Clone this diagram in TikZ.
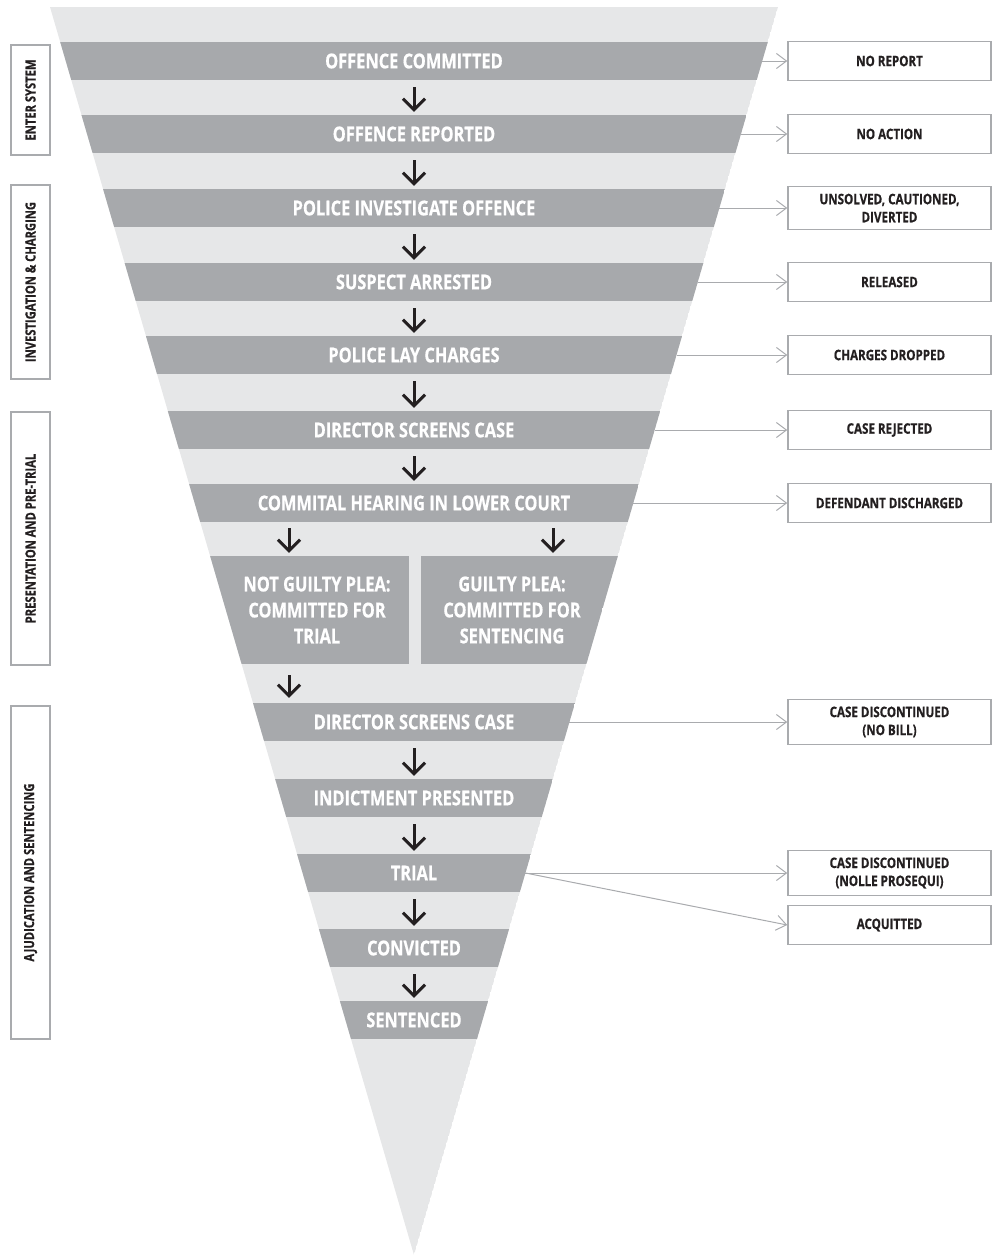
\documentclass[tikz,border=0pt]{standalone}
\usepackage{fontspec}
\setmainfont{Open Sans}[FakeStretch=0.8, BoldFeatures={FakeBold=0.6}]
\def\topy{7}
\def\apexy{1255}
\def\topwidth{728}
\usepackage{tikz}
\usetikzlibrary{arrows.meta}
\definecolor{funnelgray}{HTML}{E6E7E8}
\definecolor{stagegray}{HTML}{A7A9AC}
\definecolor{rulegray}{HTML}{A9ABAE}
\definecolor{ink}{HTML}{231F20}

\begin{document}
\begin{tikzpicture}[x=1pt,y=-1pt,inner sep=0pt]
		\tikzstyle{stage}=[fill=stagegray, text=white, minimum height=38pt, outer xsep=-6pt, align=center, font=\fontsize{20.5}{26}\selectfont\bfseries]
		\tikzstyle{outcome}=[draw=rulegray, line width=1.5pt, fill=white, minimum width=203pt, minimum height=39pt, inner ysep=7pt, align=center, text=ink, font=\fontsize{14.5}{18}\selectfont\bfseries]
		\tikzstyle{phase}=[draw=rulegray, line width=1.5pt, minimum height=39pt, rotate=90, text=ink, font=\fontsize{14}{18}\selectfont\bfseries]
		\tikzstyle{down}=[-{Straight Barb[length=11pt,width=22pt]}, line width=3pt, draw=ink]
		\tikzstyle{exit}=[-{Straight Barb[length=10pt,width=15pt]}, line width=1pt, draw=rulegray]
		
		\useasboundingbox (0,0) rectangle (994,1256);
		
		\begin{scope}
		\clip (50,\topy) -- (778,\topy) -- (414,\apexy) -- cycle;
		\fill[funnelgray] (50,\topy) -- (778,\topy) -- (414,\apexy) -- cycle;
		
		% Draw the stages of the funnel
		\foreach \name / \y / \txt in {1/61/OFFENCE COMMITTED, 2/134/OFFENCE REPORTED, 3/208/POLICE INVESTIGATE OFFENCE, 4/282/SUSPECT ARRESTED, 5/355/POLICE LAY CHARGES, 6/430/DIRECTOR SCREENS CASE, 7/503/COMMITAL HEARING IN LOWER COURT, 9/722/DIRECTOR SCREENS CASE, 10/798/INDICTMENT PRESENTED, 11/873/TRIAL, 12/948/CONVICTED, 13/1020/SENTENCED}
		{
			\pgfmathsetmacro\w{\topwidth/(\apexy-\topy)*(\apexy-\y)+12}
			\node[stage, minimum width=\w pt] (S-\name) at (414,\y) {\txt};
		}
		
		% Draw the two pleas
		\node[stage, minimum width=184pt, minimum height=108pt, outer xsep=0pt] (S-8a) at (317,610) {NOT GUILTY PLEA:\\COMMITTED FOR\\TRIAL};
		\fill[stagegray] (200,556) rectangle (S-8a.south west);
		\node[stage, minimum width=182pt, minimum height=108pt, outer xsep=0pt] (S-8b) at (512,610) {GUILTY PLEA:\\COMMITTED FOR\\SENTENCING};
		\fill[stagegray] (S-8b.north east) rectangle (640,664);
		\end{scope}
		
		% Draw the phases
		\foreach \name / \ya / \yb / \txt in {1/45/155/ENTER SYSTEM, 2/185/379/INVESTIGATION \& CHARGING, 3/412/665/PRESENTATION AND PRE-TRIAL, 4/706/1039/AJUDICATION AND SENTENCING}
		{
			\pgfmathsetmacro\len{\yb-\ya}
			\node[phase, minimum width=\len pt] (P-\name) at (30.5,{(\ya+\yb)/2}) {\txt};
		}
		
		% Draw the outcomes
		\foreach \name / \y / \txt in {1/61/NO REPORT, 2/134/NO ACTION, 3/208/{UNSOLVED, CAUTIONED,\\DIVERTED}, 4/282/RELEASED, 5/355/CHARGES DROPPED, 6/430/CASE REJECTED, 7/503/DEFENDANT DISCHARGED, 9/722/{CASE DISCONTINUED\\(NO BILL)}, 11a/873/{CASE DISCONTINUED\\(NOLLE PROSEQUI)}, 11b/925/ACQUITTED}
		\node[outcome] (O-\name) at (889.5,\y) {\txt};
		
		% Connect the stages
		\foreach \source / \dest in {1/2,2/3,3/4,4/5,5/6,6/7,9/10,10/11,11/12,12/13}
		\draw[down, shorten <=7pt, shorten >=3pt] (S-\source) -- (S-\dest);
		
		\coordinate (L) at (289,0);
		\coordinate (R) at (553,0);
		\draw[down, shorten <=6pt, shorten >=3pt] (S-7.south -| L) -- (S-8a.north -| L);
		\draw[down, shorten <=6pt, shorten >=3pt] (S-7.south -| R) -- (S-8b.north -| R);
		\draw[down, shorten <=11pt, shorten >=5pt] (S-8a.south -| L) -- (S-9.north -| L);
		
		% Connect the outcomes
		\foreach \source / \dest in {1/1,2/2,3/3,4/4,5/5,6/6,7/7,9/9,11/11a,11/11b}
		\draw[exit] (S-\source.east) -- (O-\dest.west);
		
	\end{tikzpicture}
\end{document}
